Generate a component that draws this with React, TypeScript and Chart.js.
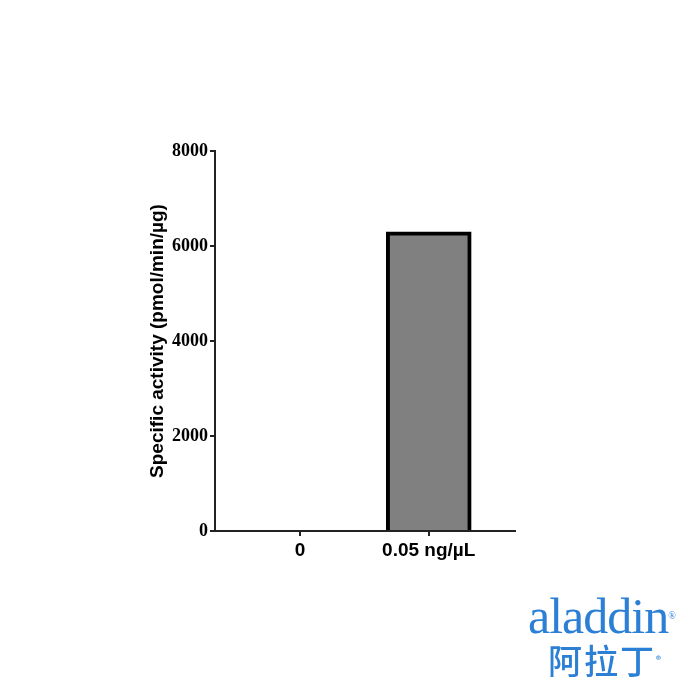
import React, { useEffect, useRef } from "react";
import { Chart, registerables } from "chart.js";

Chart.register(...registerables);

const categories: string[] = ["0", "0.05 ng/µL"];
const values: number[] = [0, 6300];
const yTicks: number[] = [0, 2000, 4000, 6000, 8000];
const yTitle = "Specific activity (pmol/min/µg)";

export default function App() {
  const ref = useRef<HTMLCanvasElement | null>(null);

  useEffect(() => {
    if (!ref.current) return;
    const axisColor = "#222";
    const chart = new Chart(ref.current, {
      type: "bar",
      data: {
        datasets: [
          {
            data: categories.map((_, i) => ({ x: i, y: values[i] })),
            backgroundColor: "#808080",
            borderColor: "#000",
            borderWidth: 4,
            barThickness: 85,
            borderSkipped: "bottom",
          },
        ],
      },
      options: {
        responsive: false,
        animation: false,
        layout: { padding: { left: 142, right: 185, top: 151, bottom: 129 } },
        plugins: { legend: { display: false }, tooltip: { enabled: false } },
        scales: {
          x: {
            type: "linear",
            offset: false,
            min: -0.66,
            max: 1.67,
            afterBuildTicks: (s: any) => {
              s.ticks = categories.map((_, i) => ({ value: i }));
            },
            afterFit: (s: any) => {
              s.height = 40;
            },
            ticks: {
              callback: (v: any) => categories[Math.round(Number(v))] ?? "",
              color: "#000",
              font: { family: "'Liberation Sans', Arial, sans-serif", size: 19, weight: "bold" },
              padding: 3,
              maxRotation: 0,
              autoSkip: false,
            },
            grid: { offset: false, drawOnChartArea: false, drawTicks: true, tickLength: 5, tickColor: axisColor, lineWidth: 2 },
            border: { display: true, color: axisColor, width: 2 },
          },
          y: {
            min: 0,
            max: 8000,
            afterBuildTicks: (s: any) => {
              s.ticks = yTicks.map((v) => ({ value: v }));
            },
            afterFit: (s: any) => {
              s.width = 73;
            },
            ticks: {
              callback: (v: any) => String(v),
              color: "#000",
              font: { family: "'Liberation Serif', 'Times New Roman', serif", size: 18, weight: "bold" },
              padding: 2,
            },
            title: {
              display: true,
              text: yTitle,
              color: "#000",
              font: { family: "'Liberation Sans', Arial, sans-serif", size: 19, weight: "bold" },
              padding: { top: 4, bottom: 0 },
            },
            grid: { drawOnChartArea: false, drawTicks: true, tickLength: 5, tickColor: axisColor, lineWidth: 2 },
            border: { display: true, color: axisColor, width: 2 },
          },
        },
      },
    } as any);
    return () => chart.destroy();
  }, []);

  return (
    <div style={{ position: "absolute", left: 0, top: 0, width: 700, height: 700, background: "#fff" }}>
      <canvas ref={ref} width={700} height={700} style={{ display: "block" }} />
      <div
        style={{
          position: "absolute",
          left: 528,
          top: 590,
          color: "#2b7fd4",
          fontFamily: "'Liberation Serif', 'Times New Roman', serif",
          fontSize: 50,
          lineHeight: "52px",
          letterSpacing: -1,
        }}
      >
        aladdin<span style={{ fontSize: 10, verticalAlign: "top" }}>®</span>
      </div>
      <div
        style={{
          position: "absolute",
          left: 548,
          top: 640,
          color: "#2b7fd4",
          fontFamily: "'Noto Sans CJK SC', sans-serif",
          fontWeight: 500,
          fontSize: 34,
          lineHeight: "40px",
          letterSpacing: 2,
        }}
      >
        阿拉丁<span style={{ fontSize: 10, verticalAlign: "top" }}>®</span>
      </div>
    </div>
  );
}
